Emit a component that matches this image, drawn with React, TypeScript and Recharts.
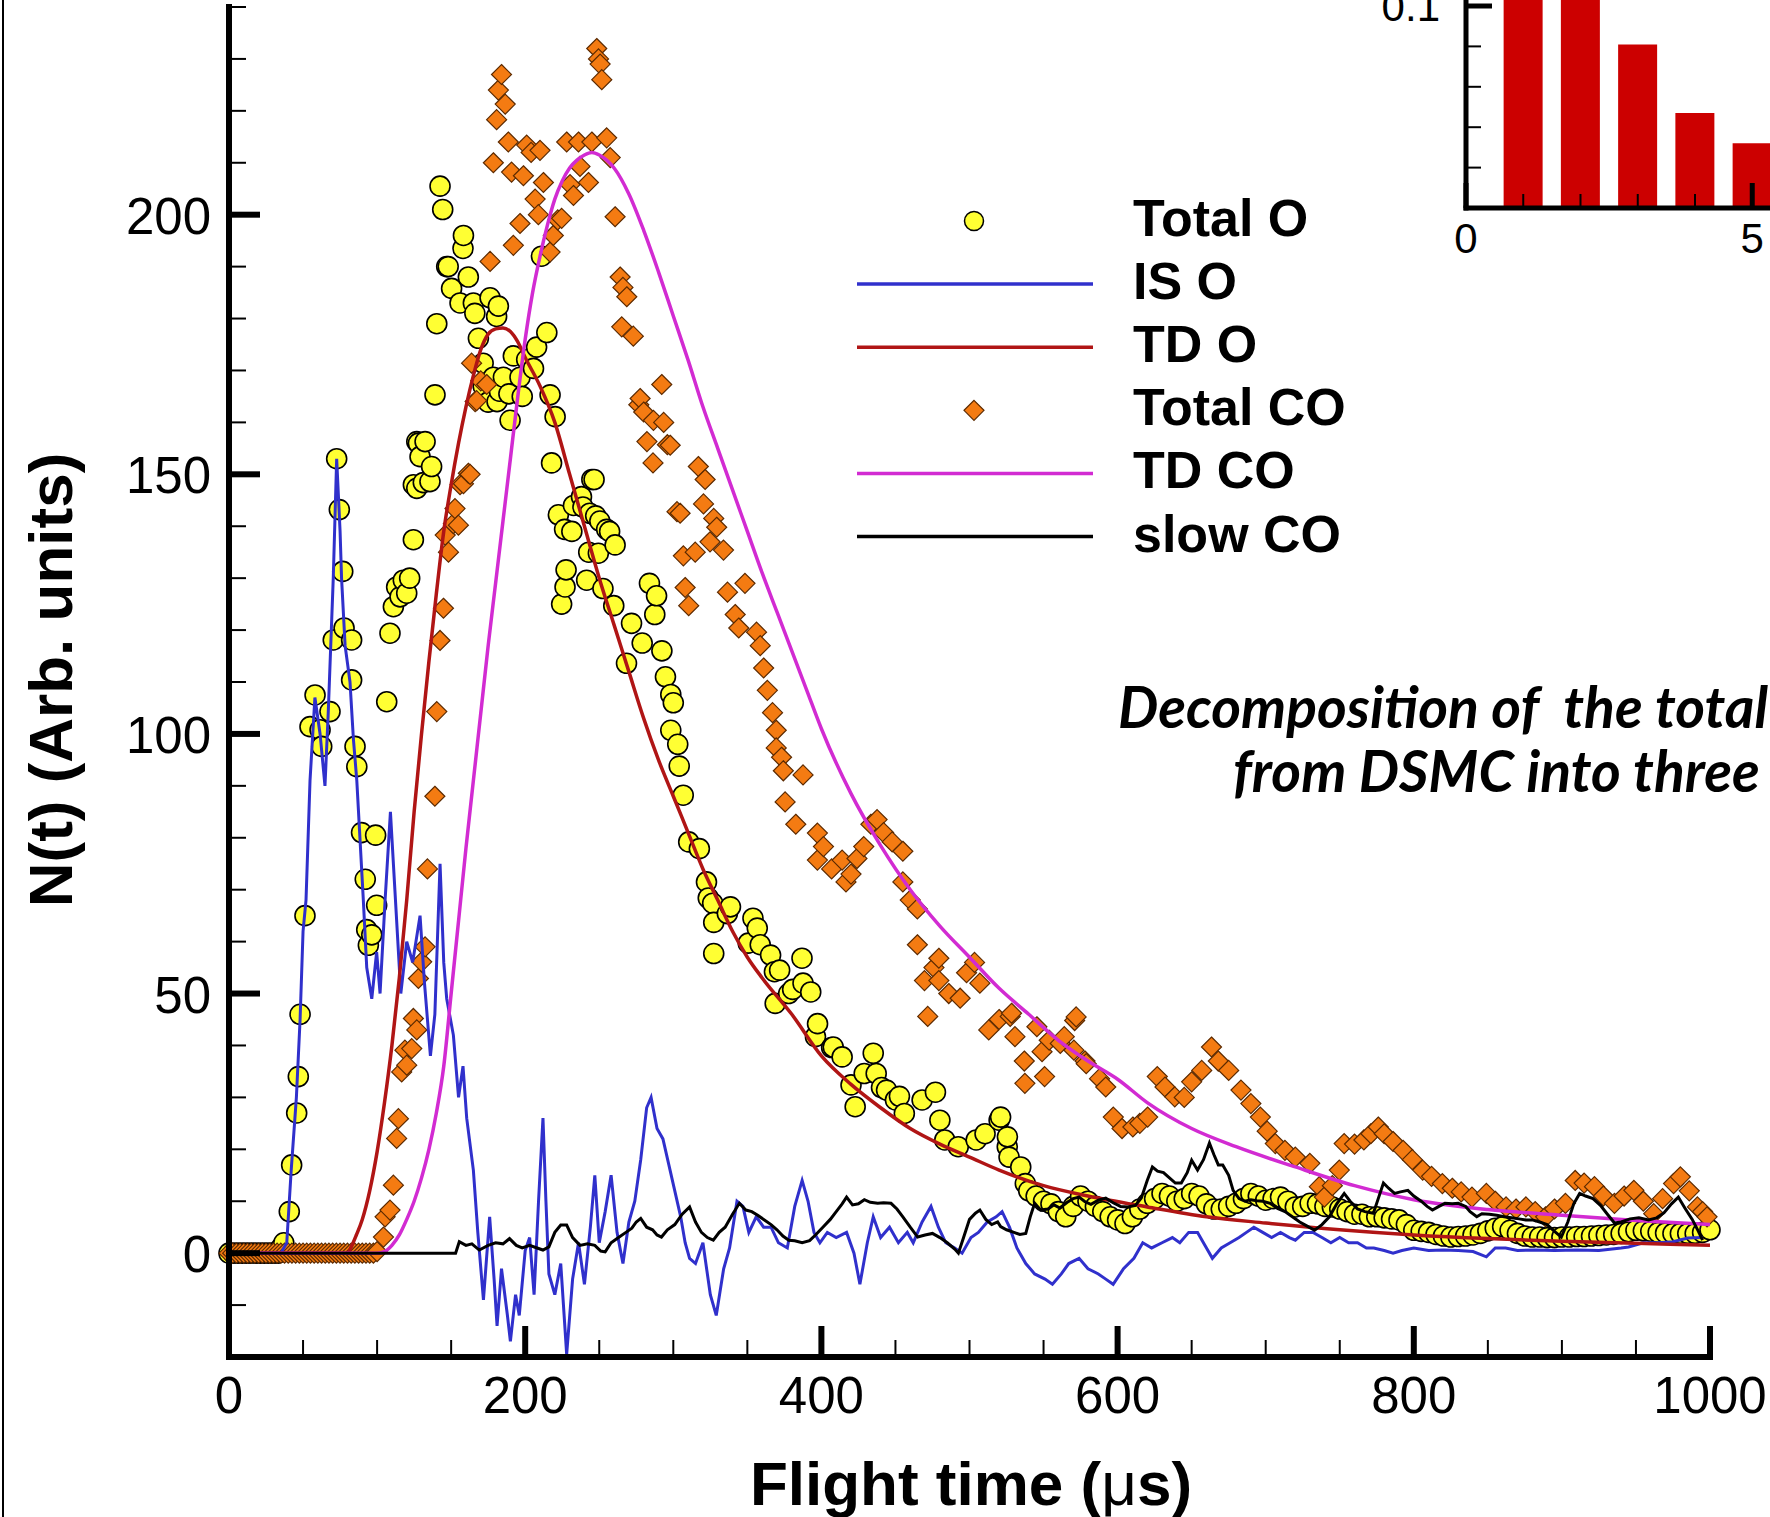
import React from 'react'
import { ComposedChart, Scatter, Line, XAxis, YAxis, BarChart, Bar } from 'recharts'

const FONT = '"Liberation Sans", Arial, Helvetica, sans-serif'

// [flight time (µs), N(t)]
const totalO: [number, number][] = [
  [0, 0], [3, 0], [6, 0], [9, 0], [12, 0], [15, 0], [18, 0], [21, 0], [24, 0], [27, 0], [30, 0], [33, 0],
  [35, 1], [37, 2], [40.7, 8], [42.3, 17], [45.7, 27], [46.8, 34], [48, 46], [51.3, 65], [54.7, 101.4],
  [58.1, 107.5], [61.5, 100.8], [62.6, 97.6], [68.2, 104.3], [70.4, 118.1], [72.7, 153], [74.5, 143.2],
  [76.8, 131.3], [77.7, 120.4], [82.8, 118.1], [82.8, 110.4], [85.1, 97.6], [86.3, 93.7], [89.5, 81],
  [92, 72], [93, 62.3], [94.1, 59.3], [96.4, 61.3], [99, 80.5], [99.7, 67], [106.5, 106.2], [108.7, 119.4],
  [111, 124.5], [113.2, 128.3], [115.5, 126.4], [117.7, 129.6], [120, 127.1], [122, 130], [124.5, 137.4],
  [124.5, 148], [126.8, 156.3], [126.8, 147.3], [127.9, 156], [129, 153.4], [131.2, 148.4], [132.4, 156.3],
  [135.7, 148.6], [136.8, 151.5], [139.1, 165.3], [140.3, 179], [142.5, 205.5], [144.3, 201], [147, 190],
  [148, 190], [150.3, 185.8], [156, 183], [158, 193.5], [158.3, 196], [161.6, 188], [165, 183], [166, 181],
  [168.4, 176.2], [171.6, 171.4], [171.6, 167], [175, 163.9], [176.3, 184], [178.5, 168.7], [180.7, 180.4],
  [181, 164], [181.9, 182.4], [182.6, 166], [185.3, 168.7], [189, 165.5], [189.8, 160.4], [192, 172.8],
  [196.5, 168.7], [198, 165], [201, 172.1], [205.6, 170.4], [207.7, 174.5], [211, 192], [214.6, 177.3],
  [216.8, 165.3], [217.8, 152.2], [220.2, 161.1], [222.4, 142.2], [224.6, 125], [226.6, 139.4], [226.9, 128.3],
  [227.6, 131.6], [231.5, 139], [232.6, 144], [238, 145.7], [239, 143.7], [241.5, 129.6], [242.9, 135],
  [243.6, 142.5], [245, 149], [246.5, 149], [247.6, 142], [249.4, 134.8], [250.4, 141], [252.5, 128],
  [255, 139.4], [257, 139], [259.8, 124.7], [260.7, 136.4], [268.4, 113.6], [271.8, 121.3], [279, 117.5],
  [283.9, 129], [287.5, 123], [288.7, 126.6], [292.3, 116], [294.7, 111], [298.3, 107.6], [300, 106],
  [298.3, 100.7], [303, 98], [304, 93.8], [306.7, 88.2], [310.4, 79.2], [317.6, 77.9], [322.4, 71.5],
  [323.6, 68.4], [326.6, 67.4], [327.3, 63.7], [327.3, 57.7], [336.5, 65.4], [338.6, 66.7], [350.6, 59.7],
  [353.8, 64.5], [356.7, 62.6], [358.7, 59.4], [365.7, 57.4], [368.3, 54.2], [368.8, 48.1], [371.8, 54.5],
  [377.9, 50], [380.6, 50.8], [386.9, 56.8], [387.6, 52], [392.8, 50.3], [396, 41.7], [397.4, 44.2],
  [406.9, 39.6], [408, 39.7], [414, 37.8], [420, 32.4], [422.8, 28.2], [428.9, 34.6], [435, 38.5], [437, 34.6],
  [440.6, 31.9], [444, 31.4], [450, 29.5], [452.7, 30.2], [456, 26.9], [468, 29.5], [477, 31], [480, 25.6],
  [483.3, 21.8], [492.4, 20.5], [504.5, 21.8], [510.5, 23], [520, 25.6], [521, 26.2], [525.5, 20.5],
  [525.6, 22.4], [526.7, 18.5], [534.6, 16.6], [537.7, 13.4],
  [540, 12], [545, 11], [550, 10], [555, 9.5], [560, 8], [565, 7], [570, 9], [575, 11], [580, 10], [585, 9],
  [590, 8], [595, 7], [600, 6.4], [605, 5.7], [610, 7], [615, 8.5], [620, 9.6], [625, 10.5], [630, 11.5],
  [635, 11], [640, 10], [645, 10.5], [650, 11.5], [655, 11], [660, 9.5], [665, 8.5], [670, 8.5], [675, 9],
  [680, 9.6], [685, 10.5], [690, 11.5], [695, 11], [700, 10.2], [705, 10.5], [710, 10.8], [715, 10],
  [720, 8.9], [725, 9], [730, 9.6], [735, 9.5], [740, 9], [745, 8.9], [750, 8.5], [755, 8], [760, 7.5],
  [765, 7.5], [770, 7], [775, 7], [780, 6.8], [785, 6.6], [790, 6.4], [795, 5.5], [800, 4.4], [805, 4.2],
  [810, 4], [815, 3.6], [820, 3.3], [825, 3.1], [830, 3.2], [835, 3.3], [840, 3.5], [845, 3.8], [850, 4.3],
  [855, 4.8], [860, 5.1], [865, 4.4], [870, 3.8], [875, 3.3], [880, 3.1], [885, 3.1], [890, 3], [895, 3],
  [900, 3.1], [905, 3.1], [910, 3.2], [915, 3.2], [920, 3.3], [925, 3.4], [930, 3.5], [935, 3.6], [940, 3.8],
  [945, 4.1], [950, 4.4], [955, 4.3], [960, 4.2], [965, 4], [970, 3.9], [975, 3.8], [980, 3.8], [985, 3.8],
  [990, 3.8], [995, 4], [1000, 4.5],
]

const totalCO: [number, number][] = [
  [0, 0], [2.5, 0], [5, 0], [7.5, 0], [10, 0], [12.5, 0], [15, 0], [17.5, 0], [20, 0], [22.5, 0], [25, 0],
  [27.5, 0], [30, 0], [32.5, 0], [35, 0], [37.5, 0], [40, 0], [42.5, 0], [45, 0], [47.5, 0], [50, 0],
  [52.5, 0], [55, 0], [57.5, 0], [60, 0], [62.5, 0], [65, 0], [67.5, 0], [70, 0], [72.5, 0], [75, 0],
  [77.5, 0], [80, 0], [82.5, 0], [85, 0], [87.5, 0], [90, 0], [92.5, 0], [95, 0], [97.5, 0], [100, 0.3],
  [104.3, 3.1], [105.4, 7], [108.7, 8.3], [111, 13.1], [113.2, 22.1], [114.4, 25.9], [116.6, 34.9],
  [118.8, 39.1], [120, 36.2], [123.4, 39.4], [124.5, 45.2], [126.8, 43], [127.9, 52.9], [130.1, 56.1],
  [132.4, 59], [134, 74], [139, 88], [140.3, 104.3], [142.5, 118], [144.8, 124.2], [146, 138.3],
  [148.2, 135], [151.5, 140.5], [152.6, 143.4], [154.9, 140.2], [156, 148], [158.3, 148.2], [161.6, 150.2],
  [162.8, 150], [163.8, 171.4], [166.2, 164], [167.2, 164.2], [170, 168], [174, 167.3], [176.3, 191],
  [178.5, 210], [180.7, 218.3], [181.9, 224], [184, 227], [186.5, 221.3], [188.6, 214], [190.8, 208.2],
  [192, 194.1], [196.5, 198.3], [198.8, 207.5], [201, 213.4], [204, 212], [206.7, 203], [208.9, 200],
  [210, 212.4], [212.3, 206.2], [216.8, 192.8], [219, 196], [222, 199], [224.6, 199.3], [228, 214],
  [230.3, 205.8], [232.6, 203.7], [236, 214], [237, 209.3], [242.7, 206.2], [245, 214], [248.3, 232],
  [249.5, 230], [250.6, 229], [251.7, 226], [255, 214.8], [257.4, 211], [260.7, 199.6], [264.1, 188],
  [265.2, 178.4], [266, 186], [268.6, 184.2], [273, 176.6], [276.7, 163.4], [277.6, 164.6], [280, 162],
  [282.2, 156.3], [286.6, 160.4], [286.3, 152.2], [292.2, 167.3], [293.5, 160], [296, 155.7], [297.9, 155.6],
  [302.5, 142.8], [304.6, 142.5], [306.8, 134.3], [308, 128.2], [310.4, 124.7], [314.8, 135], [316.9, 151.5],
  [320.4, 144.3], [321.5, 149], [324.8, 137], [327.3, 141.5], [329.3, 139.8], [333.9, 135.4], [336.6, 127.3],
  [341.8, 123], [344.2, 120.4], [348.4, 129], [356.2, 119.6], [358.7, 117], [361, 112.7], [363.5, 108.4],
  [367, 104.1], [369.5, 100.7], [369.5, 97.3], [373.1, 95.5], [374.3, 92.9], [375.5, 86.9], [382.7, 82.6],
  [387.6, 92.1], [397.3, 80.9], [397.3, 75.7], [401.4, 78.3], [406.9, 74], [414, 75.7], [416.6, 71.5],
  [420, 73], [424, 76], [428.6, 78.3], [433.4, 82.6], [437.6, 83.5], [442, 81], [447.8, 79.2], [455, 77.4],
  [455, 71.5], [460, 68], [464.8, 66.3], [464.8, 59.4], [469.6, 52.5], [471.8, 45.6], [476, 55], [479.3, 56.8],
  [479.3, 52.5], [486, 50], [493.7, 49.1], [498, 54], [503.4, 56], [507, 52], [513, 43], [520, 45],
  [527.5, 45.6], [528.4, 46.2], [530.7, 41.7], [537, 37], [537.4, 32.7], [545.5, 43.6], [549, 38.8],
  [550.7, 34], [553.8, 41], [561.3, 40.4], [564, 41.7], [570.5, 39.1], [571, 44.8], [572, 45.5], [578, 37],
  [578.8, 36.5], [587.8, 33.6], [592, 32], [597.1, 26.2], [603, 24], [610.3, 24.3], [615, 25], [620.3, 26.2],
  [626.8, 34], [632, 32], [638.6, 30.1], [645, 30], [650, 33], [656.8, 35.2], [663.4, 39.7], [668, 37],
  [675, 35.2], [683.3, 31.4], [690, 28.8], [696.4, 26.2], [701, 23.5], [706.5, 21.1], [713, 19.8],
  [720, 18.5], [729.8, 17.3], [736.2, 12.8], [739.6, 10.8], [745, 13], [749.7, 16], [753, 21.1], [760, 21],
  [766.3, 21.8], [771, 23], [776, 24.3], [780, 23], [786, 21.5], [792.8, 19.8], [799, 18], [806, 16],
  [812, 14.8], [819.3, 13.4], [826, 12.5], [832, 11.8], [839.3, 10.8], [849, 11.5], [855, 10], [862.3, 8.9],
  [869, 8.5], [875.7, 8.9], [882, 8], [889, 7], [895, 8.5], [902.4, 9.6], [909, 14], [915, 13.5], [922, 12.8],
  [928, 11], [935.5, 9.6], [942, 11], [948.6, 12.1], [955, 10], [962, 7.6], [968, 10.5], [975.4, 13.4],
  [980, 14.7], [986, 12], [991.5, 8.9], [995, 8], [998, 7],
]

const isO: [number, number][] = [
  [0, 0], [35, 0], [39, 2], [42, 16], [45.5, 30], [48, 45], [50, 62], [52, 68], [54.7, 91], [58, 107],
  [61.5, 100], [64.8, 90], [67, 104], [70.4, 130], [72.7, 153], [75, 139], [76, 130], [78.4, 117], [81.7, 110],
  [84, 99], [86.3, 91], [90.7, 68], [93, 55], [96.4, 49], [99.7, 58], [102, 50], [105.4, 68], [109, 85],
  [112, 70], [116, 50], [120, 60], [124, 56], [129, 65], [132, 52], [136, 38], [139, 46], [142.5, 75],
  [145, 56], [147, 49], [151.5, 42], [155, 30], [158, 36], [160.5, 26], [165, 16], [168, 4], [171.8, -9],
  [176, 7], [179, -5], [181, -14], [184, -3], [188, -12], [190, -17], [193.5, -8], [196, -12], [200, 0.5],
  [203, 3], [206, -8], [209, 10], [212, 26], [214, 10], [216, -4], [220, -8], [224, -2], [228, -19.5],
  [232, -5], [236, 2], [240, -6], [244, 5], [247, 15], [250, 2], [254, 8], [258, 15], [262, 4], [266, -2],
  [270, 6], [274, 10], [278, 18], [282, 28], [285, 30], [289, 24], [293, 22], [297, 17], [301, 12], [305, 7],
  [308, 2], [311, -1], [315, -2], [320, 2], [325, -8], [329, -12], [334, -3], [338, 1], [343, 10], [347, 9],
  [351, 4], [356, 7], [361, 5], [366, 5], [371, 2], [377, 1], [382, 9], [387, 14], [391, 10], [395, 4],
  [399, 2], [404, 4], [410, 3], [417, 4], [422, 0], [426, -6], [431, 2], [435, 7], [440, 3], [446, 5],
  [452, 2], [458, 4], [462, 2], [468, 6], [474, 9], [479, 5], [484, 2], [490, 1], [495, 0], [501, 3],
  [506, 4], [512, 6], [518, 7], [522, 8], [527, 5], [532, 1], [538, -2], [544, -4], [551, -5], [556, -6],
  [562, -4], [567, -2], [574, -1], [580, -3], [587, -4], [592, -5], [597, -6], [604, -3], [611, -1],
  [617, 2], [623, 1], [630, 2], [637, 3], [642, 2], [648, 4], [654, 4], [660, 1], [664, -1], [670, 1],
  [676, 2], [682, 3], [687, 4], [692, 5], [698, 4], [704, 3], [710, 4], [716, 3], [720, 2.5], [726, 4],
  [732, 4], [738, 3], [744, 2], [750, 3], [756, 2], [762, 2], [768, 1], [773, 1], [780, 0.5], [786, 0],
  [792, 0.5], [800, 1], [810, 0.5], [820, 0.6], [830, 0.5], [840, 0.3], [849, -0.7], [855, 1], [862, 1],
  [870, 0.5], [882, 0.6], [895, 0.5], [910, 0.6], [925, 0.5], [940, 1], [945, 1.2], [955, 2], [965, 2],
  [975, 2.2], [985, 2.9], [995, 3],
]

const tdO: [number, number][] = [
  [0, 0], [80, 0], [83, 1.5], [86, 3.5], [90, 6.5], [95, 12], [100, 19.5], [105, 29], [110, 40], [115, 53],
  [120, 68], [125, 85], [130, 100], [135, 114], [140, 127], [145, 139], [150, 148], [155, 156], [160, 163],
  [165, 169], [170, 174], [175, 177], [180, 178], [185, 178.2], [190, 177.5], [195, 175.5], [200, 172.5],
  [210, 167], [220, 160], [230, 150], [240, 140], [250, 130], [260, 121], [270, 112], [280, 103], [290, 95],
  [300, 88], [310, 81], [320, 74], [330, 68], [340, 62], [350, 57], [360, 53], [380, 46], [400, 38],
  [420, 32.5], [440, 28], [460, 24], [480, 21], [500, 18.5], [520, 16], [550, 13], [580, 11], [620, 8.9],
  [660, 7], [700, 5.8], [750, 4.5], [800, 3.5], [850, 2.8], [900, 2.3], [950, 1.9], [1000, 1.5],
]

const tdCO: [number, number][] = [
  [0, 0], [100, 0], [105, 0.3], [110, 1.5], [115, 3.5], [120, 6.5], [125, 10], [130, 14.5], [135, 20],
  [140, 27], [145, 36], [150, 50], [155, 64], [160, 78], [165, 91], [170, 104], [175, 117], [180, 129],
  [185, 141], [190, 153], [195, 165], [200, 176], [205, 185], [210, 192], [215, 198], [220, 203],
  [225, 206.5], [230, 209], [235, 210.5], [240, 211.5], [245, 212], [250, 211.5], [255, 210.5], [260, 209],
  [270, 204], [280, 197], [290, 189], [300, 180.5], [310, 172], [320, 163], [330, 155], [340, 147],
  [350, 139], [360, 131], [370, 123.5], [380, 116], [390, 108.5], [400, 101], [420, 88.5], [440, 78.5],
  [460, 70], [480, 63], [500, 57], [520, 51], [540, 46], [560, 41], [580, 37], [600, 33.5], [620, 29],
  [650, 24], [680, 20.5], [720, 16.6], [760, 13], [800, 10.3], [850, 8.4], [900, 7.3], [950, 6.3], [1000, 5.5],
]

const slowCO: [number, number][] = [
  [0, 0], [153, 0], [155.5, 2.2], [160, 1.5], [164, 1.8], [169, 0.6], [175, 1.5], [180, 2], [185, 1.8],
  [189.4, 2.8], [194, 1.5], [198, 1], [203, 1.5], [208, 1], [212, 0.6], [216, 1.2], [220, 4], [224, 5.4],
  [228, 5.4], [232, 3], [237, 1.5], [242, 1.8], [247, 1.5], [251, 0.4], [254, 0.25], [258, 2], [263, 3],
  [268, 4], [272, 4.8], [275, 6], [278, 6.7], [282, 5], [286, 4.5], [289, 3.5], [292, 3.1], [296, 4.5],
  [301, 5.5], [306, 7.5], [311, 8.9], [315, 6], [319, 4], [323, 3], [327, 2.5], [331, 4], [335, 5],
  [340, 7.5], [344.6, 9.6], [349, 8.3], [353, 8], [357, 7.3], [361, 6.5], [366, 5.5], [370, 4.5], [374, 3.3],
  [378, 2.5], [382, 2.4], [387, 2], [392, 2.4], [396, 3.5], [401, 5], [406, 6.5], [410, 8], [414, 9.5],
  [417, 10.8], [421, 9.3], [425, 9.5], [429, 10.3], [433, 9.8], [438, 9.6], [442, 9.7], [447, 9.6],
  [451, 8.5], [455, 7], [460, 5], [465, 3.1], [470, 3.5], [475, 3.8], [480, 3], [485, 2], [490, 0.8],
  [492.5, 0], [496, 3], [500, 6.5], [504, 7.7], [507, 8.3], [511, 6.5], [515, 5.5], [519, 6], [521, 5.1],
  [525, 4.5], [530, 4], [534, 3.6], [538, 3.8], [541, 7], [544, 9.6], [548, 8.3], [553, 8.5], [557, 9.3],
  [561, 8.7], [566, 9.8], [570, 10.5], [574, 10.8], [578, 9.9], [582, 9.4], [587, 10.2], [592, 10.6],
  [597, 9.7], [602, 9], [607, 8.9], [612, 9.2], [616, 10.6], [620, 14], [623.5, 16.6], [627, 15.8],
  [631, 15.5], [635, 14.5], [639, 13.5], [643, 13.5], [647, 15.5], [650, 17.9], [654, 16], [658, 18],
  [662, 21.2], [665, 19], [668, 17], [671, 17], [675, 15], [678, 12.1], [682, 10.5], [686, 10], [690, 10.3],
  [694, 10.1], [698, 10], [703, 9.6], [708, 8.6], [713, 8], [718, 7], [723, 6], [728, 5.2], [733, 4.4],
  [738, 5.5], [743, 7], [748, 9.5], [753, 11.5], [757, 10], [762, 8.5], [767, 8], [772.7, 7.7], [776, 10.5],
  [779.5, 13.5], [783, 12.5], [787, 11.5], [791, 11.8], [796, 12.1], [800, 11], [805, 10], [809, 9],
  [812.6, 8.3], [817, 9], [821, 9.6], [826, 9.5], [830, 9.6], [835, 9], [838, 8], [842.5, 7], [846, 7.6],
  [851, 7.5], [856, 7.3], [861, 7], [866, 6.8], [871, 6.6], [875.7, 6.4], [880, 6.4], [885, 6], [890, 5.5],
  [895, 4.2], [899.6, 3.1], [904, 6], [908, 9.5], [912, 11.5], [916, 11], [921, 10.5], [926, 9.2],
  [931, 7.4], [935.5, 5.8], [940, 6], [946, 6.6], [952, 6.8], [958.5, 6.4], [964, 6.8], [969, 7.8],
  [974, 9.5], [978.6, 10.8], [983, 8.7], [988, 6.5], [992, 4.3], [995, 2.5],
]

const timeTicks = [0, 50, 100, 150, 200, 250, 300, 350, 400, 450, 500, 550, 600, 650, 700, 750, 800, 850, 900, 950, 1000]
const countTicks = [-10, 0, 10, 20, 30, 40, 50, 60, 70, 80, 90, 100, 110, 120, 130, 140, 150, 160, 170, 180, 190, 200, 210, 220, 230, 240]

// inset histogram
const insetBins = [1, 2, 3, 4, 5, 6]
const insetProb = [0.14, 0.12, 0.081, 0.047, 0.032, 0.02]
const insetXTicks = [0, 1, 2, 3, 4, 5, 6, 7, 8]
const insetYTicks = [0.02, 0.04, 0.06, 0.08, 0.1, 0.12, 0.14, 0.16, 0.18, 0.2]

const legendItems = [
  { label: 'Total O', kind: 'circle', color: '#FFFF33' },
  { label: 'IS O', kind: 'line', color: '#3030CC' },
  { label: 'TD O', kind: 'line', color: '#B01515' },
  { label: 'Total CO', kind: 'diamond', color: '#F47B12' },
  { label: 'TD CO', kind: 'line', color: '#D22BD2' },
  { label: 'slow CO', kind: 'line', color: '#000000' },
]

const toPts = (pairs: [number, number][]) => pairs.map(([t, v]) => ({ t, v }))

const CircleDot = (p: any) => (
  <circle cx={p.cx} cy={p.cy} r={10} fill="#FFFF33" stroke="#000" strokeWidth={1.6} />
)

const DiamondDot = (p: any) => {
  const s = 10
  return (
    <path
      d={`M${p.cx},${p.cy - s}L${p.cx + s},${p.cy}L${p.cx},${p.cy + s}L${p.cx - s},${p.cy}Z`}
      fill="#F47B12"
      stroke="#5C2A00"
      strokeWidth={1.2}
    />
  )
}

function TimeTick({ x, y, payload }: any) {
  const major = payload.value % 200 === 0
  return (
    <g>
      <line x1={x} x2={x} y1={y} y2={y - (major ? 31 : 17)} stroke="#000" strokeWidth={major ? 6 : 2} />
      {major && (
        <text x={x} y={y + 56} textAnchor="middle" fontSize={51} fontFamily={FONT} fill="#000">
          {payload.value}
        </text>
      )}
    </g>
  )
}

function CountTick({ x, y, payload }: any) {
  const major = payload.value % 50 === 0
  return (
    <g>
      <line x1={x} x2={x + (major ? 31 : 17)} y1={y} y2={y} stroke="#000" strokeWidth={major ? 6 : 2} />
      {major && (
        <text x={x - 18} y={y + 19} textAnchor="end" fontSize={51} fontFamily={FONT} fill="#000">
          {payload.value}
        </text>
      )}
    </g>
  )
}

function InsetXTick({ x, y, payload }: any) {
  const major = payload.value % 5 === 0
  return (
    <g>
      <line x1={x} x2={x} y1={y} y2={y - (major ? 25 : 14)} stroke="#000" strokeWidth={major ? 5 : 2} />
      {major && (
        <text x={x} y={y + 45} textAnchor="middle" fontSize={42} fontFamily={FONT} fill="#000">
          {payload.value}
        </text>
      )}
    </g>
  )
}

function InsetYTick({ x, y, payload }: any) {
  const major = Math.abs(payload.value - 0.1) < 1e-9 || Math.abs(payload.value - 0.2) < 1e-9
  return (
    <g>
      <line x1={x} x2={x + (major ? 26 : 15)} y1={y} y2={y} stroke="#000" strokeWidth={major ? 5 : 2} />
      {major && (
        <text x={x - 26} y={y + 15} textAnchor="end" fontSize={42} fontFamily={FONT} fill="#000">
          {payload.value}
        </text>
      )}
    </g>
  )
}

function Overlay() {
  const rowY = (i: number) => 221 + i * 63.1
  return (
    <svg width={1770} height={1517} style={{ position: 'absolute', left: 0, top: 0, pointerEvents: 'none' }}>
      <line x1={3} x2={3} y1={0} y2={1517} stroke="#000" strokeWidth={2} />
      {/* legend */}
      {legendItems.map((it, i) => {
        const cy = rowY(i)
        return (
          <g key={it.label}>
            {it.kind === 'line' && <line x1={857} x2={1093} y1={cy} y2={cy} stroke={it.color} strokeWidth={3.5} />}
            {it.kind === 'circle' && <circle cx={974} cy={cy} r={9.5} fill={it.color} stroke="#000" strokeWidth={1.5} />}
            {it.kind === 'diamond' && (
              <path d={`M974,${cy - 10}L984,${cy}L974,${cy + 10}L964,${cy}Z`} fill={it.color} stroke="#5C2A00" strokeWidth={1.2} />
            )}
            <text x={1133} y={cy + 15} fontSize={52} fontWeight="bold" fontFamily={FONT} fill="#000">
              {it.label}
            </text>
          </g>
        )
      })}
      {/* axis titles */}
      <text
        transform="translate(72,680) rotate(-90)"
        textAnchor="middle"
        fontSize={62}
        fontWeight="bold"
        fontFamily={FONT}
        fill="#000"
      >
        N(t) (Arb. units)
      </text>
      <text x={971} y={1505} textAnchor="middle" fontSize={62} fontWeight="bold" fontFamily={FONT} fill="#000">
        Flight time (<tspan fontWeight="normal">μ</tspan>s)
      </text>
      {/* annotation, runs past the right edge as in the source figure */}
      <g fontFamily='Lato, "Noto Sans", sans-serif' fontStyle="italic" fontWeight="bold" fontSize={57} fill="#000">
        <text x={1118} y={728} style={{ whiteSpace: 'pre' }}>Decomposition of  the total</text>
        <text x={1233} y={792}>from DSMC into three</text>
      </g>
    </svg>
  )
}

export default function App() {
  const insetData = insetBins.map((n, i) => ({ n, p: insetProb[i] }))
  return (
    <div
      style={{
        position: 'fixed',
        left: 0,
        top: 0,
        width: 1770,
        height: 1517,
        overflow: 'hidden',
        background: '#fff',
      }}
    >
      <ComposedChart width={1770} height={1517} margin={{ top: 7, right: 60, bottom: 100, left: 149 }}>
        <XAxis
          type="number"
          dataKey="t"
          domain={[0, 1000]}
          ticks={timeTicks}
          interval={0}
          height={60}
          tickSize={0}
          tickMargin={0}
          tickLine={false}
          axisLine={{ stroke: '#000', strokeWidth: 6, strokeLinecap: 'square' }}
          tick={TimeTick}
        />
        <YAxis
          type="number"
          dataKey="v"
          domain={[-20, 240]}
          ticks={countTicks}
          interval={0}
          width={80}
          tickSize={0}
          tickMargin={0}
          tickLine={false}
          axisLine={{ stroke: '#000', strokeWidth: 6, strokeLinecap: 'square' }}
          tick={CountTick}
        />
        <Scatter name="Total O" data={toPts(totalO)} dataKey="v" shape={CircleDot} isAnimationActive={false} zIndex={300} />
        <Scatter name="Total CO" data={toPts(totalCO)} dataKey="v" shape={DiamondDot} isAnimationActive={false} zIndex={310} />
        <Line name="IS O" data={toPts(isO)} dataKey="v" type="linear" stroke="#3030CC" strokeWidth={3} dot={false} activeDot={false} isAnimationActive={false} />
        <Line name="TD O" data={toPts(tdO)} dataKey="v" type="monotone" stroke="#B01515" strokeWidth={3.5} dot={false} activeDot={false} isAnimationActive={false} />
        <Line name="TD CO" data={toPts(tdCO)} dataKey="v" type="monotone" stroke="#D22BD2" strokeWidth={3.5} dot={false} activeDot={false} isAnimationActive={false} />
        <Line name="slow CO" data={toPts(slowCO)} dataKey="v" type="linear" stroke="#000" strokeWidth={3} dot={false} activeDot={false} isAnimationActive={false} />
      </ComposedChart>

      <div style={{ position: 'absolute', left: 1346, top: -206 }}>
        <BarChart width={588} height={484} data={insetData} margin={{ top: 10, right: 10, bottom: 10, left: 60 }}>
          <XAxis
            type="number"
            dataKey="n"
            domain={[0, 8]}
            ticks={insetXTicks}
            interval={0}
            height={60}
            tickSize={0}
            tickMargin={0}
            tickLine={false}
            axisLine={{ stroke: '#000', strokeWidth: 5, strokeLinecap: 'square' }}
            tick={InsetXTick}
          />
          <YAxis
            type="number"
            domain={[0, 0.2]}
            ticks={insetYTicks}
            interval={0}
            width={60}
            tickSize={0}
            tickMargin={0}
            tickLine={false}
            axisLine={{ stroke: '#000', strokeWidth: 5, strokeLinecap: 'square' }}
            tick={InsetYTick}
          />
          <Bar dataKey="p" fill="#CC0000" barSize={39} isAnimationActive={false} />
        </BarChart>
      </div>

      <Overlay />
    </div>
  )
}
